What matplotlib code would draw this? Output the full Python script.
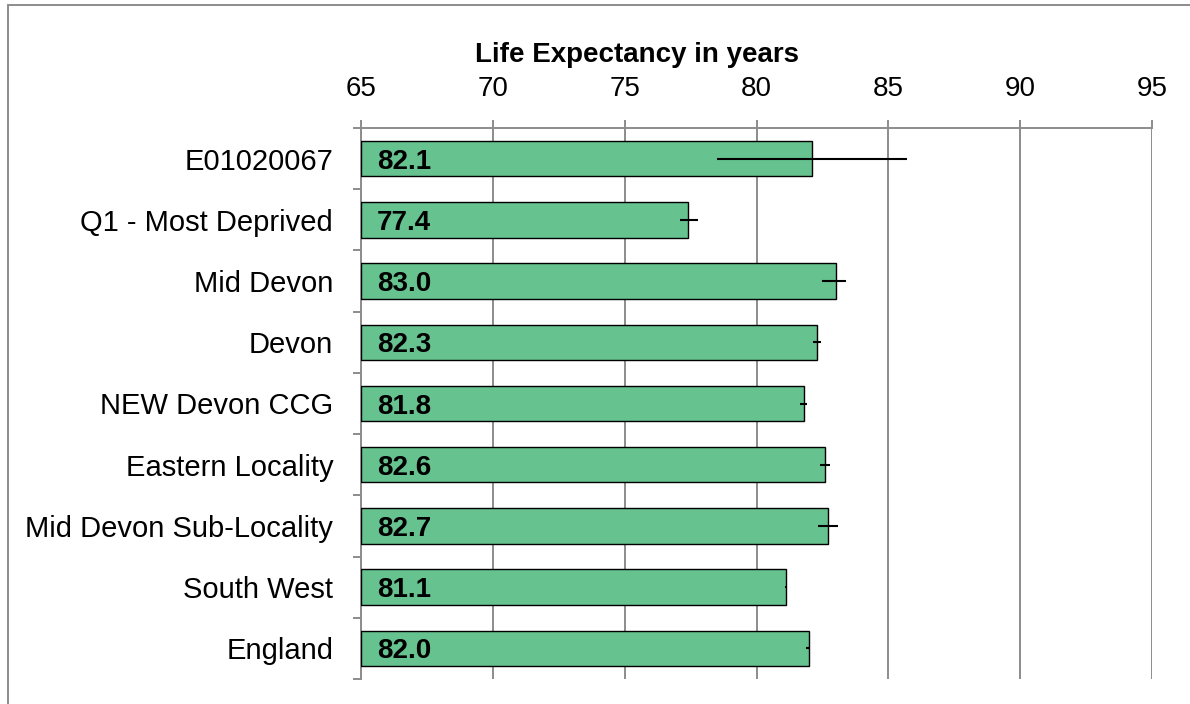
import matplotlib.pyplot as plt
import matplotlib.patches as mpatches
import numpy as np

# 値は画像から読み取り
areas = ["E01020067", "Q1 - Most Deprived", "Mid Devon", "Devon", "NEW Devon CCG",
         "Eastern Locality", "Mid Devon Sub-Locality", "South West", "England"]
life_exp = [82.1, 77.4, 83.0, 82.3, 81.8, 82.6, 82.7, 81.1, 82.0]
ci_low = [78.5, 77.1, 82.5, 82.15, 81.65, 82.4, 82.33, 81.07, 81.86]
ci_high = [85.7, 77.8, 83.4, 82.43, 81.9, 82.78, 83.08, 81.13, 82.0]
x_ticks = [65, 70, 75, 80, 85, 90, 95]

plt.rcParams["font.family"] = ["Liberation Sans", "DejaVu Sans"]

fig = plt.figure(figsize=(11.9, 7.04), dpi=100)
ax = fig.add_axes([361 / 1190, 1 - 679 / 704, (1152 - 361) / 1190, (679 - 128) / 704])

y = np.arange(len(areas))
vals = np.array(life_exp)
xerr = np.vstack([vals - np.array(ci_low), np.array(ci_high) - vals])

ax.barh(y, vals - 65, left=65, height=0.58, color="#66c28e", edgecolor="black",
        linewidth=1.0, zorder=3)
ax.errorbar(vals, y, xerr=xerr, fmt="none", ecolor="black", elinewidth=1.5,
            capsize=0, zorder=4)

# 値ラベル（太字、バーの左端）
for yi, v in zip(y, life_exp):
    ax.text(65.6, yi + 0.165, f"{v:.1f}", ha="left", va="baseline", fontsize=20,
            fontweight="bold", zorder=5)

ax.set_xlim(65, 95)
ax.set_ylim(len(areas) - 0.5, -0.5)
ax.xaxis.tick_top()
ax.set_xticks(x_ticks)
ax.tick_params(axis="x", direction="out", length=6, width=1.4, color="#8c8c8c",
               labelsize=20, pad=13)
ax.set_yticks(y)
ax.set_yticklabels(areas)
ax.tick_params(axis="y", length=0, labelsize=21, pad=20)
ax.set_yticks(np.arange(-0.5, len(areas), 1), minor=True)
ax.tick_params(axis="y", which="minor", direction="out", length=6, width=1.4,
               color="#8c8c8c")

ax.grid(axis="x", color="#8c8c8c", linewidth=1.4, zorder=0)
for s in ["right", "bottom"]:
    ax.spines[s].set_visible(False)
for s in ["top", "left"]:
    ax.spines[s].set_color("#8c8c8c")
    ax.spines[s].set_linewidth(1.4)
    ax.spines[s].set_zorder(2)

fig.text(637 / 1190, 1 - 62 / 704, "Life Expectancy in years", ha="center",
         va="baseline", fontsize=20, fontweight="bold")

# グラフ外枠
frame = mpatches.Rectangle((8 / 1190, -0.1), 1.2, 1 - 5 / 704 + 0.1,
                           transform=fig.transFigure, fill=False,
                           edgecolor="#8c8c8c", linewidth=1.4)
fig.patches.append(frame)

fig.savefig("out.png", dpi=100)
